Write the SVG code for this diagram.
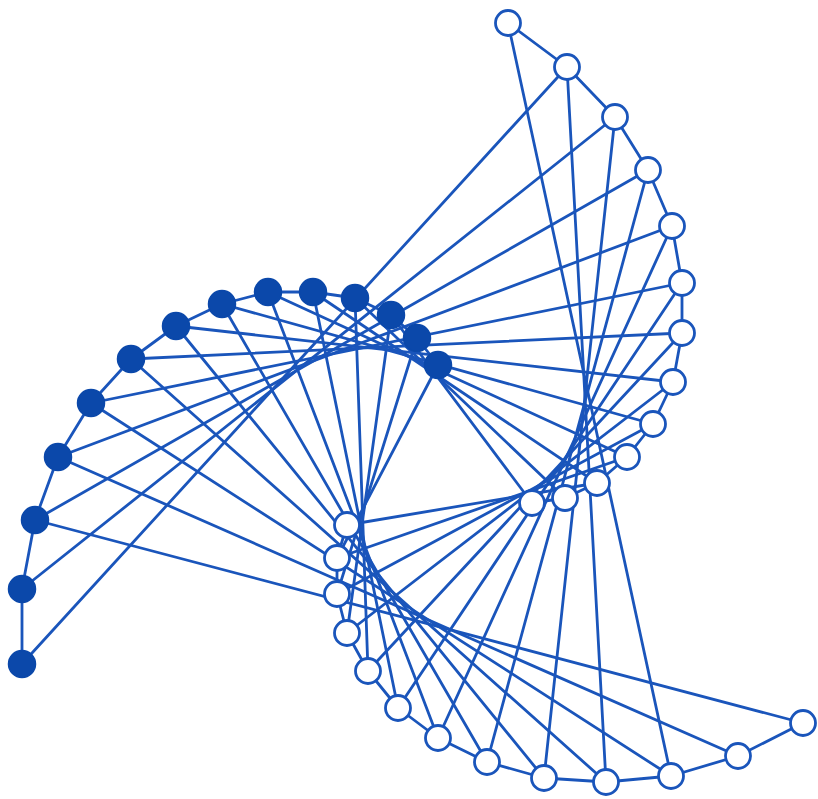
<svg xmlns="http://www.w3.org/2000/svg" width="818" height="799" viewBox="0 0 818 799">
<style>
.e{stroke:#1a55bb;stroke-width:2.8;fill:none;stroke-linecap:round;stroke-linejoin:round}
.f{fill:#0b48aa;stroke:#0b48aa;stroke-width:1.5}
.w{fill:#ffffff;stroke:#1a55bb;stroke-width:2.8}
</style>
<rect width="818" height="799" fill="#ffffff"/>
<g id="connectors" class="e">
<polyline points="22,664 22,589 35,520 58,457 91,403 131,359 176,326 222,304 268,292 313,292 355,298 391,315 417,338 438,365"/>
<polyline points="508,23 567,67 615,117 648,170 672,226 682,283 682,333 673,382 653,424 627,457 597,483 565,498 532,503"/>
<polyline points="347,525 337,558 337,594 347,633 368,671 398,708 438,738 487,762 544,778 606,782 671,776 738,756 803,723"/>
<line x1="567" y1="67" x2="22" y2="664"/>
<line x1="615" y1="117" x2="22" y2="589"/>
<line x1="648" y1="170" x2="35" y2="520"/>
<line x1="672" y1="226" x2="58" y2="457"/>
<line x1="682" y1="283" x2="91" y2="403"/>
<line x1="682" y1="333" x2="131" y2="359"/>
<line x1="673" y1="382" x2="176" y2="326"/>
<line x1="653" y1="424" x2="222" y2="304"/>
<line x1="627" y1="457" x2="268" y2="292"/>
<line x1="597" y1="483" x2="313" y2="292"/>
<line x1="565" y1="498" x2="355" y2="298"/>
<line x1="532" y1="503" x2="391" y2="315"/>
<line x1="508" y1="23" x2="671" y2="776"/>
<line x1="567" y1="67" x2="606" y2="782"/>
<line x1="615" y1="117" x2="544" y2="778"/>
<line x1="648" y1="170" x2="487" y2="762"/>
<line x1="672" y1="226" x2="438" y2="738"/>
<line x1="682" y1="283" x2="398" y2="708"/>
<line x1="682" y1="333" x2="368" y2="671"/>
<line x1="673" y1="382" x2="347" y2="633"/>
<line x1="653" y1="424" x2="337" y2="594"/>
<line x1="627" y1="457" x2="337" y2="558"/>
<line x1="597" y1="483" x2="347" y2="525"/>
<line x1="35" y1="520" x2="803" y2="723"/>
<line x1="58" y1="457" x2="738" y2="756"/>
<line x1="91" y1="403" x2="671" y2="776"/>
<line x1="131" y1="359" x2="606" y2="782"/>
<line x1="176" y1="326" x2="544" y2="778"/>
<line x1="222" y1="304" x2="487" y2="762"/>
<line x1="268" y1="292" x2="438" y2="738"/>
<line x1="313" y1="292" x2="398" y2="708"/>
<line x1="355" y1="298" x2="368" y2="671"/>
<line x1="391" y1="315" x2="347" y2="633"/>
<line x1="417" y1="338" x2="337" y2="594"/>
<line x1="438" y1="365" x2="337" y2="558"/>
</g>
<g id="A1"><circle class="f" cx="22" cy="664" r="13.5"/></g>
<g id="A2"><circle class="f" cx="22" cy="589" r="13.5"/></g>
<g id="A3"><circle class="f" cx="35" cy="520" r="13.5"/></g>
<g id="A4"><circle class="f" cx="58" cy="457" r="13.5"/></g>
<g id="A5"><circle class="f" cx="91" cy="403" r="13.5"/></g>
<g id="A6"><circle class="f" cx="131" cy="359" r="13.5"/></g>
<g id="A7"><circle class="f" cx="176" cy="326" r="13.5"/></g>
<g id="A8"><circle class="f" cx="222" cy="304" r="13.5"/></g>
<g id="A9"><circle class="f" cx="268" cy="292" r="13.5"/></g>
<g id="A10"><circle class="f" cx="313" cy="292" r="13.5"/></g>
<g id="A11"><circle class="f" cx="355" cy="298" r="13.5"/></g>
<g id="A12"><circle class="f" cx="391" cy="315" r="13.5"/></g>
<g id="A13"><circle class="f" cx="417" cy="338" r="13.5"/></g>
<g id="A14"><circle class="f" cx="438" cy="365" r="13.5"/></g>
<g id="B1"><circle class="w" cx="508" cy="23" r="12.5"/></g>
<g id="B2"><circle class="w" cx="567" cy="67" r="12.5"/></g>
<g id="B3"><circle class="w" cx="615" cy="117" r="12.5"/></g>
<g id="B4"><circle class="w" cx="648" cy="170" r="12.5"/></g>
<g id="B5"><circle class="w" cx="672" cy="226" r="12.5"/></g>
<g id="B6"><circle class="w" cx="682" cy="283" r="12.5"/></g>
<g id="B7"><circle class="w" cx="682" cy="333" r="12.5"/></g>
<g id="B8"><circle class="w" cx="673" cy="382" r="12.5"/></g>
<g id="B9"><circle class="w" cx="653" cy="424" r="12.5"/></g>
<g id="B10"><circle class="w" cx="627" cy="457" r="12.5"/></g>
<g id="B11"><circle class="w" cx="597" cy="483" r="12.5"/></g>
<g id="B12"><circle class="w" cx="565" cy="498" r="12.5"/></g>
<g id="B13"><circle class="w" cx="532" cy="503" r="12.5"/></g>
<g id="C1"><circle class="w" cx="347" cy="525" r="12.5"/></g>
<g id="C2"><circle class="w" cx="337" cy="558" r="12.5"/></g>
<g id="C3"><circle class="w" cx="337" cy="594" r="12.5"/></g>
<g id="C4"><circle class="w" cx="347" cy="633" r="12.5"/></g>
<g id="C5"><circle class="w" cx="368" cy="671" r="12.5"/></g>
<g id="C6"><circle class="w" cx="398" cy="708" r="12.5"/></g>
<g id="C7"><circle class="w" cx="438" cy="738" r="12.5"/></g>
<g id="C8"><circle class="w" cx="487" cy="762" r="12.5"/></g>
<g id="C9"><circle class="w" cx="544" cy="778" r="12.5"/></g>
<g id="C10"><circle class="w" cx="606" cy="782" r="12.5"/></g>
<g id="C11"><circle class="w" cx="671" cy="776" r="12.5"/></g>
<g id="C12"><circle class="w" cx="738" cy="756" r="12.5"/></g>
<g id="C13"><circle class="w" cx="803" cy="723" r="12.5"/></g>
</svg>
